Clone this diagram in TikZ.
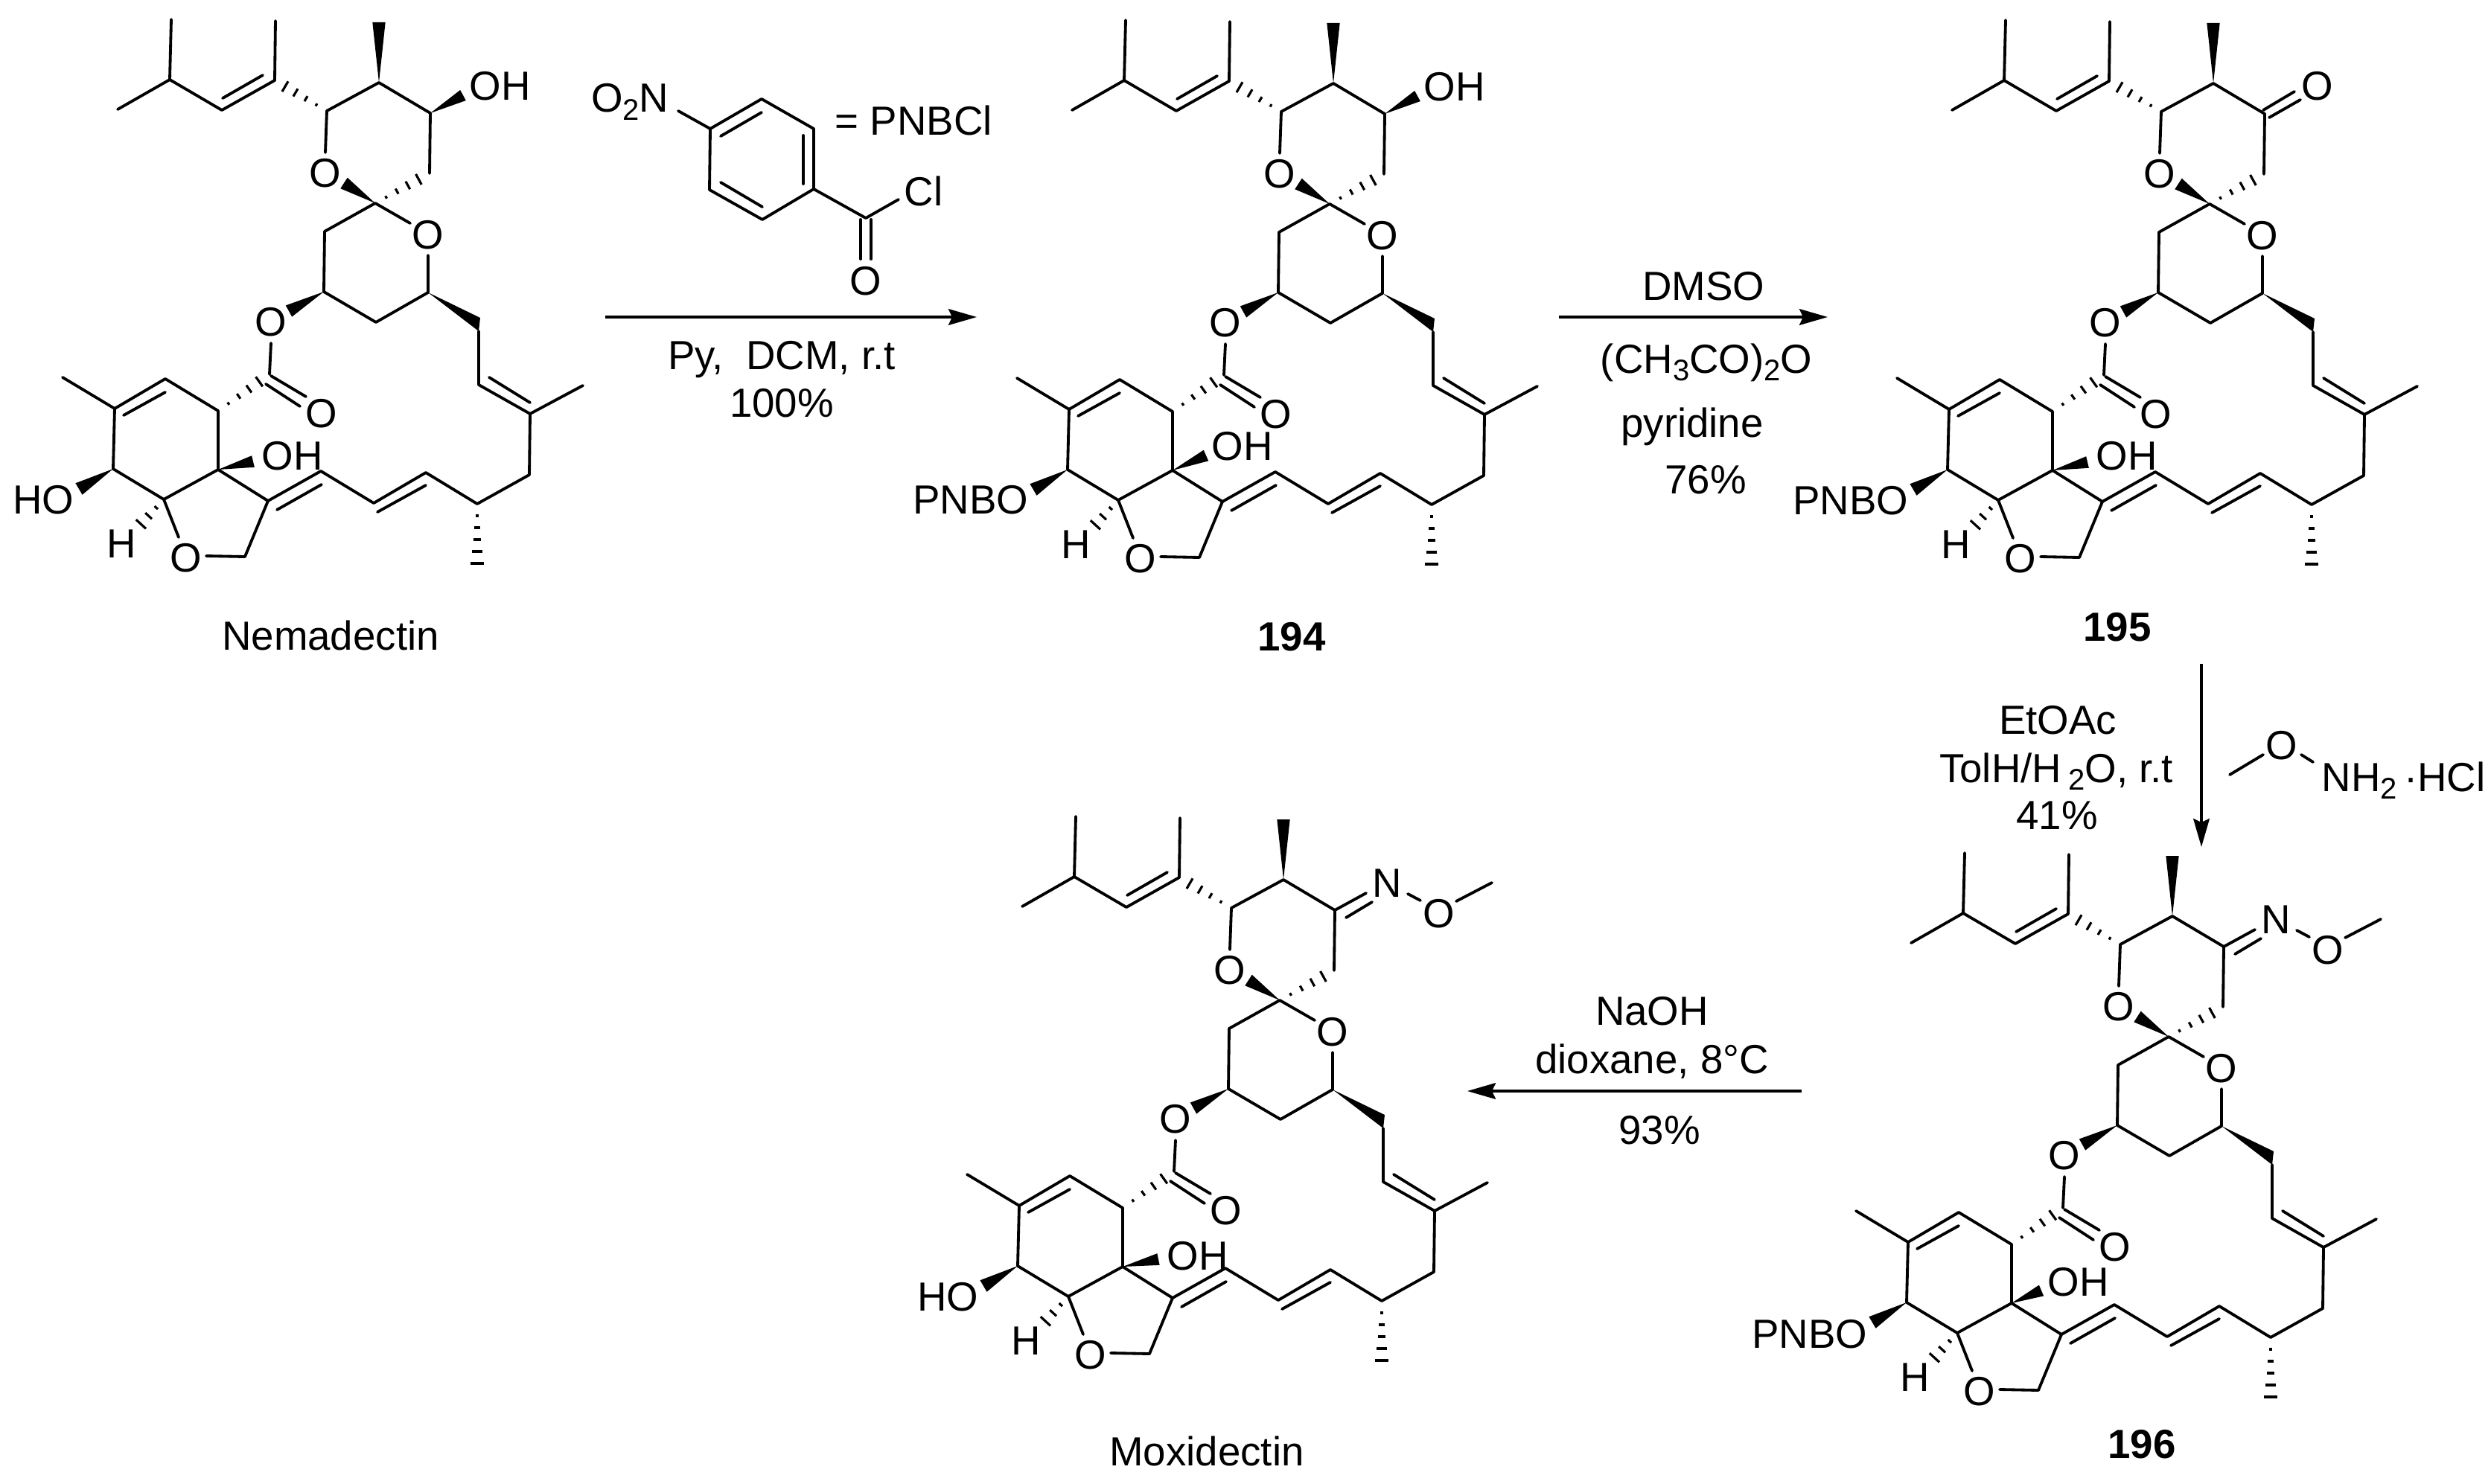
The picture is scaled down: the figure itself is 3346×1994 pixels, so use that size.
\documentclass[tikz,border=0pt]{standalone}
\usepackage{fontspec}
\setmainfont{Liberation Sans}
\usetikzlibrary{calc,arrows.meta}
\tikzset{
  bond/.style={line width=1.15pt,line cap=round,line join=round},
  atom/.style={inner sep=0pt,font=\fontsize{16.4}{19}\selectfont},
  word/.style={atom,anchor=base},
  cpd/.style={word,font=\fontsize{16.4}{19}\selectfont\bfseries},
  rxn/.style={line width=1.05pt,-{Stealth[length=11.4pt,width=6.5pt,inset=1.5pt]}},
}
\newcommand{\sbs}[1]{\raisebox{-3.2pt}{\fontsize{12}{13}\selectfont #1}}
% filled and hashed stereo bonds, narrow end first
\newcommand{\wedgebond}[3]{\fill #1 -- ($#2!#3!90:#1$) -- ($#2!#3!-90:#1$) -- cycle;}
\newcommand{\hashbond}[4][0.2,0.4,0.6,0.8]{
  \foreach \t in {#1}{
    \coordinate (hh) at ($#2!\t!#3$);
    \draw[line width=0.95pt] ($(hh)!\t*#4!90:#2$) -- ($(hh)!\t*#4!-90:#2$);
  }
}
% everything the five macrocycles have in common
\newcommand{\coremol}{
  \draw[bond] (158,147) -- (228,107) -- (230,26);
  \draw[bond] (228,107) -- (298,148) -- (369,108) -- (370,28);
  \draw[bond] (299,132) -- (353,101);
  \hashbond{(439,149)}{(369,108)}{3pt}
  \wedgebond{(509,111)}{(509,30)}{2.6pt}
  \draw[bond] (437,205) -- (439,149) -- (509,111) -- (578,152) -- (577,233);
  \node[atom] (ringO) at (437,233) {O};
  \hashbond{(504,273)}{(577,233)}{3pt}
  \wedgebond{(504,273)}{(462,246)}{2.6pt}
  \node[atom] (spiroO) at (575,316) {O};
  \draw[bond] (551,300) -- (504,273) -- (436,311) -- (435,392) -- (505,433) -- (575,393) -- (575,343);
  \wedgebond{(435,392)}{(388,418)}{2.6pt}
  \fill (575,393) -- (645,427) -- (643,445) -- cycle;
  \node[atom] (esterO) at (364,433) {O};
  \draw[bond] (364,461) -- (362,503);
  % lactone
  \draw[bond] (364,505) -- (411,533);
  \draw[bond] (357,516) -- (403,546);
  \node[atom] (acylO) at (432,556) {O};
  \hashbond{(293,552)}{(362,503)}{3pt}
  % cyclohexene and furan
  \draw[bond] (293,631) -- (293,552) -- (222,509) -- (154,549) -- (152,630) -- (220,671) -- (293,631) -- (360,673);
  \draw[bond] (166,558) -- (222,527);
  \draw[bond] (154,549) -- (84,507);
  \wedgebond{(152,630)}{(106,657)}{2.7pt}
  \hashbond[0.3,0.6,0.9]{(220,671)}{(186,708)}{3pt}
  \node[atom] (hbr) at (163,731) {H};
  \node[atom] (furO) at (250,750) {O};
  \draw[bond] (220,671) -- (240,722);
  \draw[bond] (277,747) -- (329,748) -- (360,673);
  % side chain back to the spiroketal
  \draw[bond] (360,673) -- (431,633) -- (502,676) -- (572,635) -- (641,677) -- (711,638) -- (712,556) -- (643,517) -- (643,445);
  \draw[bond] (372,685) -- (432,651);
  \draw[bond] (507,688) -- (572,652);
  \draw[bond] (657,507) -- (712,541);
  \draw[bond] (712,556) -- (783,518);
  \hashbond[0.2,0.4,0.6,0.8,1]{(641,677)}{(641,757)}{2.7pt}
}
\newcommand{\bridgeoh}[2]{
  \wedgebond{(293,631)}{#1}{2.4pt}
  \node[atom,anchor=west] (ohbr) at #2 {OH};
}
\newcommand{\topoh}{
  \wedgebond{(578,152)}{(622,128)}{2.4pt}
  \node[atom,anchor=west] (ohtop) at (630,116) {OH};
}
\newcommand{\oxime}{
  \draw[bond] (578,152) -- (620,129);
  \draw[bond] (593,162) -- (628,141);
  \node[atom] (oxN) at (648,116) {N};
  \draw[bond] (676,130) -- (693,139);
  \node[atom] (oxO) at (718,157) {O};
  \draw[bond] (741,140) -- (789,115);
}
\begin{document}
\begin{tikzpicture}[x=0.3pt,y=-0.3pt]
  \useasboundingbox (0,0) rectangle (3346,1994);
  % Nemadectin
  \begin{scope}[name prefix=nem-]
    \coremol
    \topoh
    \bridgeoh{(340,620)}{(351,613)}
    \node[atom,anchor=east] (ho) at (100,672) {HO};
  \end{scope}
  \node[word] (nemadectin) at (444,873) {Nemadectin};
  % 194
  \begin{scope}[shift={(1282,1)},name prefix=a-]
    \coremol
    \topoh
    \bridgeoh{(338,611)}{(345,599)}
    \node[atom,anchor=east] (pnbo) at (100,671) {PNBO};
  \end{scope}
  \node[cpd] (c194) at (1735,874) {194};
  % 195
  \begin{scope}[shift={(2464,1)},name prefix=b-]
    \coremol
    \bridgeoh{(340,620)}{(351,612)}
    \draw[bond] (576,147) -- (618,122);
    \draw[bond] (584,157) -- (626,133);
    \node[atom] (ketO) at (649,115) {O};
    \node[atom,anchor=east] (pnbo) at (100,672) {PNBO};
  \end{scope}
  \node[cpd] (c195) at (2844,861) {195};
  % 196
  \begin{scope}[shift={(2409,1120)},name prefix=c-]
    \coremol
    \oxime
    \bridgeoh{(333,614)}{(341,603)}
    \node[atom,anchor=east] (pnbo) at (100,673) {PNBO};
  \end{scope}
  \node[cpd] (c196) at (2877,1959) {196};
  % Moxidectin
  \begin{scope}[shift={(1215,1071)},name prefix=d-]
    \coremol
    \oxime
    \bridgeoh{(341,621)}{(352,617)}
    \node[atom,anchor=east] (ho) at (100,672) {HO};
  \end{scope}
  \node[word] (moxidectin) at (1621,1969) {Moxidectin};
  % PNBCl reagent
  \draw[bond] (954,173) -- (1023,133) -- (1093,173) -- (1093,254) -- (1024,295) -- (953,255) -- cycle;
  \draw[bond] (968,183) -- (1023,151);
  \draw[bond] (1079,182) -- (1079,247);
  \draw[bond] (968,245) -- (1024,278);
  \draw[bond] (911,149) -- (954,173);
  \draw[bond] (1093,254) -- (1163,293) -- (1207,268);
  \draw[bond] (1156,295) -- (1156,348);
  \draw[bond] (1170,295) -- (1170,348);
  \node[atom,anchor=east] (otwon) at (899,137) {O\sbs{2}N};
  \node[atom,anchor=west] (pnbcl) at (1121,162) {= PNBCl};
  \node[atom,anchor=west] (cl) at (1214,257) {Cl};
  \node[atom] (acO) at (1163,378) {O};
  % arrow 1
  \coordinate (a1s) at (813,426);
  \coordinate (a1e) at (1312,426);
  \draw[rxn] (a1s) -- (a1e);
  \node[word] (py) at (1050,496) {Py,\ \ DCM, r.t};
  \node[word] (y100) at (1050,560) {100\%};
  % arrow 2
  \coordinate (a2s) at (2094,426);
  \coordinate (a2e) at (2455,426);
  \draw[rxn] (a2s) -- (a2e);
  \node[word] (dmso) at (2288,403) {DMSO};
  \node[word] (ac2o) at (2292,501) {(CH\sbs{3}CO)\sbs{2}O};
  \node[word] (pyr) at (2273,587) {pyridine};
  \node[word] (y76) at (2291,663) {76\%};
  % arrow 3
  \coordinate (a3s) at (2957,892);
  \coordinate (a3e) at (2957,1138);
  \draw[rxn] (a3s) -- (a3e);
  \node[word] (etoac) at (2764,986) {EtOAc};
  \node[word] (tolh) at (2762,1051) {TolH/H\,\sbs{2}O, r.t};
  \node[word] (y41) at (2763,1114) {41\%};
  \draw[bond] (2995,1041) -- (3040,1014);
  \node[atom] (mO) at (3065,1002) {O};
  \draw[bond] (3091,1014) -- (3107,1024);
  \node[word,anchor=base west] (nh2) at (3118,1063) {NH\sbs{2}\,·HCl};
  % arrow 4
  \coordinate (a4s) at (2420,1466);
  \coordinate (a4e) at (1971,1466);
  \draw[rxn] (a4s) -- (a4e);
  \node[word] (naoh) at (2219,1377) {NaOH};
  \node[word] (diox) at (2219,1442) {dioxane, 8°C};
  \node[word] (y93) at (2229,1537) {93\%};
\end{tikzpicture}
\end{document}
